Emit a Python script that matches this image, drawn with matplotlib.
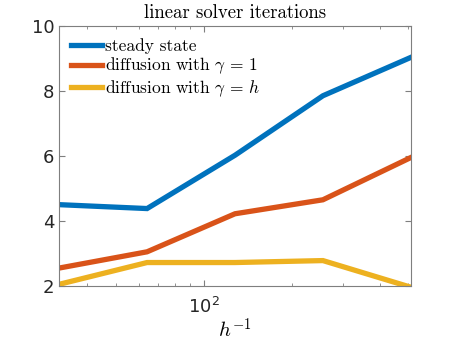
import matplotlib
matplotlib.use("Agg")
import matplotlib.pyplot as plt
from matplotlib.ticker import LogLocator, NullFormatter, FixedLocator

plt.rcParams['mathtext.fontset'] = 'cm'
plt.rcParams['axes.unicode_minus'] = False

# data
h_inv = [32, 64, 128, 256, 512]
steady = [4.5, 4.38, 6.02, 7.85, 9.03]
diff_one = [2.55, 3.05, 4.22, 4.65, 5.95]
diff_h = [2.05, 2.72, 2.72, 2.78, 1.96]
labels = ["steady state", r"diffusion with $\gamma\,=\,1$", r"diffusion with $\gamma\,=\,h$"]
colors = ["#0072BD", "#D95319", "#EDB120"]

fig = plt.figure(figsize=(4.55, 3.4), dpi=100)
ax = fig.add_axes([0.130, 0.159, 0.773, 0.765])

for ys, lab, c in zip([steady, diff_one, diff_h], labels, colors):
    ax.plot(h_inv, ys, color=c, lw=3.8, label=lab, solid_joinstyle='miter')

ax.set_xscale('log')
ax.set_xlim(32, 512)
ax.set_ylim(2, 10)
ax.set_yticks([2, 4, 6, 8, 10])
ax.xaxis.set_major_locator(FixedLocator([100]))
ax.xaxis.set_minor_locator(LogLocator(base=10, subs=range(2, 10)))
ax.xaxis.set_minor_formatter(NullFormatter())

gray = "#7f7f7f"
for s in ax.spines.values():
    s.set_color(gray)
    s.set_linewidth(0.8)
ax.tick_params(which='both', direction='in', top=True, right=True, color=gray,
               labelcolor="#262626", labelsize=13)
ax.tick_params(which='major', length=4)
ax.tick_params(which='minor', length=2.5)
ax.tick_params(axis='x', pad=8)

ax.set_title("linear solver iterations", fontfamily='cmr10', fontsize=13.5, pad=6)
ax.set_xlabel(r"$h^{-1}$", fontsize=15, labelpad=0)

leg = ax.legend(loc='upper left', frameon=False, prop={'family': 'cmr10', 'size': 12.5},
                handlelength=1.75, handletextpad=0.2, labelspacing=0.12,
                borderaxespad=0.3)

fig.savefig("out.png", dpi=100)
